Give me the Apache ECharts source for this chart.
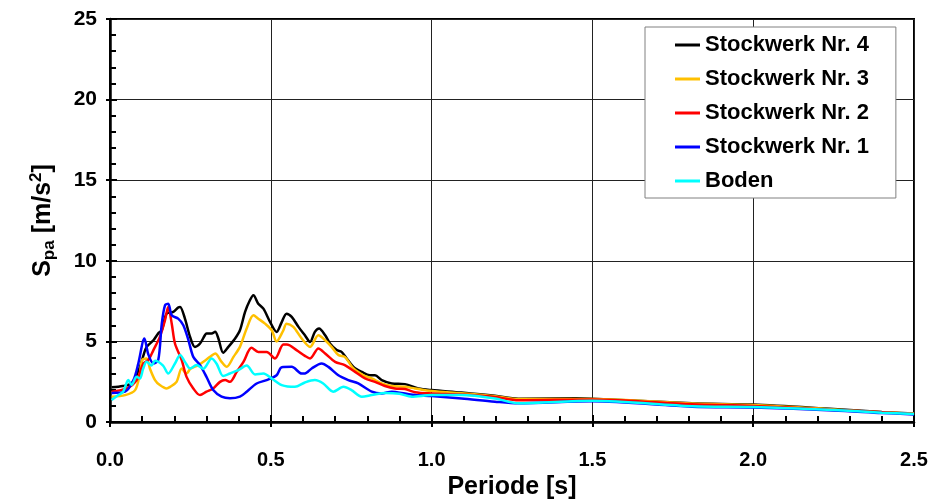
<!DOCTYPE html>
<html>
<head>
<meta charset="utf-8">
<script src="https://cdn.jsdelivr.net/npm/echarts@6/dist/echarts.min.js"></script>
<style>
  html, body { margin: 0; padding: 0; background: #fff; }
  #chart { width: 950px; height: 500px; }
</style>
</head>
<body>
<div id="chart"></div>
<script>
// [Periode s, Spa m/s^2]
const stockwerk4 = [[0.005,2.15],[0.04,2.23],[0.067,2.39],[0.08,2.8],[0.093,3.42],[0.105,4.2],[0.114,4.66],[0.135,5.07],[0.15,5.5],[0.161,5.69],[0.176,6.72],[0.197,6.83],[0.212,7.1],[0.218,7.14],[0.233,6.41],[0.249,5.28],[0.264,4.66],[0.28,4.87],[0.295,5.38],[0.3,5.49],[0.316,5.49],[0.327,5.6],[0.337,5.18],[0.352,4.3],[0.368,4.66],[0.389,5.18],[0.404,5.69],[0.42,6.83],[0.435,7.55],[0.446,7.86],[0.461,7.34],[0.477,7.03],[0.498,6.2],[0.518,5.59],[0.534,6.2],[0.549,6.72],[0.565,6.52],[0.586,5.9],[0.606,5.38],[0.622,4.97],[0.637,5.59],[0.65,5.8],[0.669,5.38],[0.684,4.87],[0.705,4.46],[0.72,4.35],[0.736,3.94],[0.757,3.42],[0.783,3.11],[0.808,2.9],[0.824,2.9],[0.845,2.6],[0.876,2.39],[0.917,2.35],[0.959,2.08],[1.0,1.98],[1.093,1.83],[1.197,1.63],[1.27,1.45],[1.45,1.47],[1.5,1.45],[1.81,1.16],[2.0,1.08],[2.25,0.8],[2.4,0.62],[2.5,0.53]];
const stockwerk3 = [[0.005,1.57],[0.047,1.67],[0.078,1.98],[0.093,3.01],[0.1,3.84],[0.114,3.94],[0.124,3.32],[0.14,2.6],[0.155,2.29],[0.176,2.08],[0.187,2.18],[0.207,2.49],[0.223,3.32],[0.238,3.01],[0.25,3.3],[0.275,3.53],[0.295,3.8],[0.311,4.04],[0.327,4.25],[0.347,3.73],[0.363,3.42],[0.384,4.04],[0.404,4.66],[0.425,5.8],[0.446,6.62],[0.461,6.41],[0.482,6.1],[0.503,5.69],[0.518,5.0],[0.539,5.69],[0.549,6.1],[0.57,5.9],[0.596,5.18],[0.622,4.66],[0.648,5.38],[0.669,5.07],[0.689,4.66],[0.71,4.15],[0.73,4.04],[0.757,3.32],[0.788,2.9],[0.814,2.7],[0.845,2.39],[0.876,2.23],[0.917,2.18],[0.948,2.08],[1.0,1.92],[1.093,1.78],[1.197,1.6],[1.27,1.42],[1.5,1.43],[1.81,1.14],[2.0,1.05],[2.25,0.78],[2.4,0.6],[2.5,0.52]];
const stockwerk2 = [[0.005,1.88],[0.052,2.08],[0.083,2.6],[0.104,3.63],[0.119,3.84],[0.135,4.46],[0.155,5.28],[0.171,6.31],[0.181,7.14],[0.192,6.1],[0.202,4.87],[0.223,3.84],[0.238,2.8],[0.259,2.08],[0.28,1.67],[0.3,1.88],[0.321,2.08],[0.342,2.49],[0.358,2.6],[0.373,2.49],[0.394,3.11],[0.415,3.73],[0.44,4.6],[0.461,4.35],[0.487,4.35],[0.513,3.94],[0.539,4.8],[0.55,4.8],[0.58,4.46],[0.606,4.1],[0.622,3.94],[0.648,4.56],[0.669,4.25],[0.7,3.73],[0.73,3.53],[0.762,3.11],[0.793,2.7],[0.824,2.49],[0.855,2.23],[0.886,2.08],[0.917,2.05],[0.948,1.85],[1.0,1.77],[1.093,1.7],[1.197,1.55],[1.27,1.35],[1.5,1.4],[1.81,1.1],[2.0,1.0],[2.25,0.75],[2.4,0.6],[2.5,0.5]];
const stockwerk1 = [[0.005,1.8],[0.047,1.88],[0.073,2.6],[0.088,3.63],[0.107,5.18],[0.119,4.2],[0.135,3.63],[0.15,3.84],[0.161,6.1],[0.171,7.24],[0.181,7.34],[0.192,6.62],[0.212,6.41],[0.228,6.0],[0.244,5.07],[0.259,4.04],[0.28,3.53],[0.3,2.8],[0.321,1.98],[0.347,1.57],[0.373,1.47],[0.404,1.57],[0.425,1.88],[0.456,2.39],[0.487,2.6],[0.518,2.9],[0.534,3.4],[0.565,3.42],[0.596,3.01],[0.606,3.01],[0.627,3.32],[0.658,3.63],[0.679,3.42],[0.71,2.9],[0.741,2.6],[0.772,2.39],[0.814,1.88],[0.845,1.77],[0.876,1.88],[0.917,1.77],[0.948,1.67],[1.0,1.61],[1.093,1.46],[1.197,1.26],[1.27,1.16],[1.5,1.28],[1.81,0.95],[2.0,0.9],[2.25,0.72],[2.4,0.56],[2.5,0.47]];
const boden = [[0.005,1.36],[0.026,1.67],[0.041,1.88],[0.057,2.6],[0.067,2.3],[0.083,2.8],[0.093,2.7],[0.103,3.3],[0.114,3.73],[0.129,3.5],[0.14,3.8],[0.165,3.5],[0.181,3.01],[0.202,3.63],[0.218,4.15],[0.233,3.73],[0.249,3.32],[0.269,3.53],[0.29,3.3],[0.316,3.94],[0.332,3.6],[0.352,2.85],[0.373,3.01],[0.399,3.22],[0.425,3.5],[0.451,2.95],[0.477,3.01],[0.503,2.7],[0.534,2.29],[0.575,2.18],[0.606,2.45],[0.637,2.6],[0.663,2.39],[0.694,1.88],[0.726,2.18],[0.751,1.98],[0.783,1.57],[0.814,1.67],[0.855,1.8],[0.9,1.75],[0.938,1.57],[1.0,1.67],[1.093,1.67],[1.197,1.46],[1.27,1.16],[1.5,1.32],[1.81,0.98],[2.0,0.93],[2.25,0.74],[2.4,0.58],[2.5,0.5]];

const seriesNames = ['Stockwerk Nr. 4', 'Stockwerk Nr. 3', 'Stockwerk Nr. 2', 'Stockwerk Nr. 1', 'Boden'];
const seriesData = [stockwerk4, stockwerk3, stockwerk2, stockwerk1, boden];
const seriesColors = ['#000000', '#FFC000', '#FF0000', '#0000FF', '#00FFFF'];

const font = 'Liberation Sans, Arial, sans-serif';
const chart = echarts.init(document.getElementById('chart'));

const option = {
    animation: false,
    grid: {
        left: 110, right: 36, top: 19, bottom: 78,
        outerBoundsMode: 'none',
        show: true, borderColor: '#000', borderWidth: 2, backgroundColor: 'transparent'
    },
    legend: {
        orient: 'vertical',
        left: 645, top: 27,
        padding: [7, 27, 6, 30],
        itemGap: 12,
        itemWidth: 25, itemHeight: 14,
        backgroundColor: '#fff',
        borderColor: '#808080', borderWidth: 1,
        textStyle: {fontFamily: font, fontWeight: 'bold', fontSize: 22, color: '#000'},
        // short line icons
        data: seriesNames.map(n => ({name: n, icon: 'path://M0,0 L25,0 L25,3 L0,3 Z'})),
    },
    xAxis: [
        {
            type: 'value', min: 0, max: 2.5, interval: 0.5,
            name: 'Periode [s]', nameLocation: 'middle', nameGap: 52,
            nameTextStyle: {fontFamily: font, fontWeight: 'bold', fontSize: 25, color: '#000'},
            axisLine: {lineStyle: {color: '#000', width: 2.5}},
            axisTick: {inside: true, length: 7, lineStyle: {color: '#000', width: 2}},
            minorTick: {show: true, splitNumber: 5, length: 6, lineStyle: {color: '#000', width: 2}},
            axisLabel: {margin: 28, fontFamily: font, fontWeight: 'bold', fontSize: 20, color: '#000',
                formatter: v => v.toFixed(1)},
            splitLine: {show: true, lineStyle: {color: '#222', width: 1}},
        },
        {
            type: 'value', min: 0, max: 2.5, interval: 0.5, position: 'bottom',
            axisLine: {show: false},
            axisTick: {show: true, inside: false, length: 5, lineStyle: {color: '#000', width: 2}},
            axisLabel: {show: false},
            splitLine: {show: false},
        }
    ],
    yAxis: [
        {
            type: 'value', min: 0, max: 25, interval: 5,
            name: '{s|S}{sub|pa}{s| [m/s}{sup|2}{s|]}',
            nameLocation: 'middle', nameGap: 50, nameRotate: 90,
            nameTextStyle: {
                fontFamily: font, fontWeight: 'bold', fontSize: 25, color: '#000',
                rich: {
                    s: {fontFamily: font, fontWeight: 'bold', fontSize: 25, lineHeight: 34, verticalAlign: 'middle'},
                    sub: {fontFamily: font, fontWeight: 'bold', fontSize: 17, lineHeight: 34, verticalAlign: 'bottom', padding: [0, 0, 2, 0]},
                    sup: {fontFamily: font, fontWeight: 'bold', fontSize: 17, lineHeight: 34, verticalAlign: 'top', padding: [2, 0, 0, 0]}
                }
            },
            axisLine: {lineStyle: {color: '#000', width: 2.5}},
            axisTick: {inside: true, length: 7, lineStyle: {color: '#000', width: 2}},
            minorTick: {show: true, splitNumber: 5, length: 6, lineStyle: {color: '#000', width: 2}},
            axisLabel: {margin: 13, fontFamily: font, fontWeight: 'bold', fontSize: 21, color: '#000'},
            splitLine: {show: true, lineStyle: {color: '#222', width: 1}},
        },
        {
            type: 'value', min: 0, max: 25, interval: 5, position: 'left',
            axisLine: {show: false},
            axisTick: {show: true, inside: false, length: 4, lineStyle: {color: '#000', width: 2}},
            axisLabel: {show: false},
            splitLine: {show: false},
        }
    ],
    series: seriesNames.map((name, i) => ({
        name: name,
        type: 'line',
        data: seriesData[i],
        symbol: 'none',
        smooth: 0.3,
        color: seriesColors[i],
        lineStyle: {width: 2.5, color: seriesColors[i]},
        itemStyle: {color: seriesColors[i]},
    })),
};
chart.setOption(option);
</script>
</body>
</html>
